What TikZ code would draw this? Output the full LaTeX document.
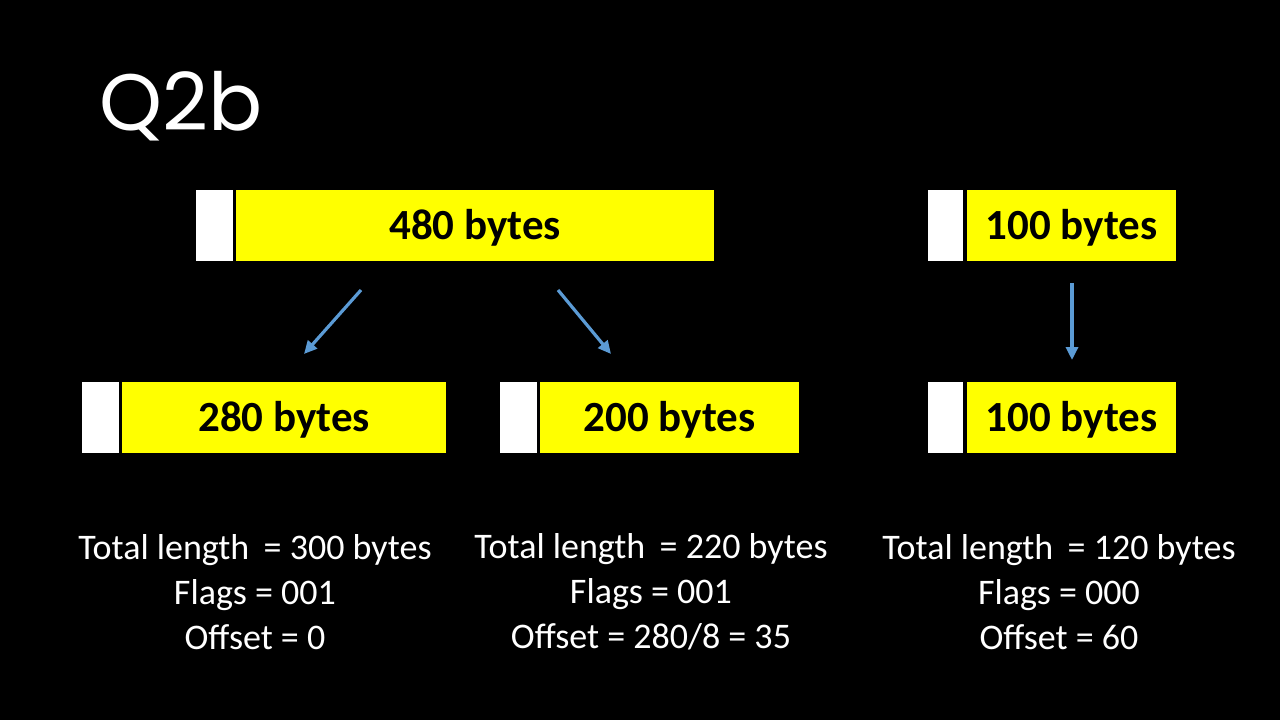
\documentclass[tikz,border=0pt]{standalone}
\usepackage{fontspec}
\setmainfont{Carlito}
\newfontfamily\titlefont{Poppins}
\usetikzlibrary{arrows.meta}
\definecolor{arrowblue}{HTML}{5B9BD5}
\definecolor{boxyellow}{HTML}{FFFF00}
\tikzset{
  hdr/.style={fill=white, draw=none, inner sep=0pt, anchor=north west, minimum height=71pt},
  payload/.style={fill=boxyellow, draw=none, inner sep=0pt, anchor=north west, minimum height=71pt,
    text height=30pt, text depth=2.5pt,
    font=\fontsize{43}{48}\selectfont\bfseries, text=black},
  info/.style={text=white, align=center, font=\fontsize{36}{45}\selectfont, inner sep=0pt},
  splitarrow/.style={draw=arrowblue, line width=3.2pt, -{Triangle[length=13pt,width=12pt]}}
}
\begin{document}
\begin{tikzpicture}[x=1pt,y=-1pt]
\fill[black] (0,0) rectangle (1280,720);
\useasboundingbox (0,0) rectangle (1280,720);

\node[text=white, font=\titlefont\fontsize{80}{86}\selectfont, anchor=west, inner sep=0pt] (title) at (99,106) {Q2b};

% top row
\node[hdr, minimum width=37pt] (h480) at (196,190) {};
\node[payload, minimum width=478pt] (p480) at (236,190) {480 bytes};
\node[hdr, minimum width=35pt] (h100a) at (928,190) {};
\node[payload, minimum width=209pt] (p100a) at (967,190) {100 bytes};

% bottom row
\node[hdr, minimum width=37pt] (h280) at (82,382) {};
\node[payload, minimum width=324pt] (p280) at (122,382) {280 bytes};
\node[hdr, minimum width=37pt] (h200) at (500,382) {};
\node[payload, minimum width=259pt] (p200) at (540,382) {200 bytes};
\node[hdr, minimum width=35pt] (h100b) at (928,382) {};
\node[payload, minimum width=209pt] (p100b) at (967,382) {100 bytes};

% arrows
\coordinate (a1s) at (361,290);
\coordinate (a1e) at (304,354);
\coordinate (a2s) at (558,290);
\coordinate (a2e) at (611,354);
\coordinate (a3s) at (1072,283);
\coordinate (a3e) at (1072,360);
\draw[splitarrow] (a1s) -- (a1e);
\draw[splitarrow] (a2s) -- (a2e);
\draw[splitarrow] (a3s) -- (a3e);

% info
\node[info] (i1) at (255,592) {Total length\hspace{0.4em}= 300 bytes\\Flags = 001\\Offset = 0};
\node[info] (i2) at (651,592) {Total length\hspace{0.4em}= 220 bytes\\Flags = 001\\Offset = 280/8 = 35};
\node[info] (i3) at (1059,592) {Total length\hspace{0.4em}= 120 bytes\\Flags = 000\\Offset = 60};
\end{tikzpicture}
\end{document}
